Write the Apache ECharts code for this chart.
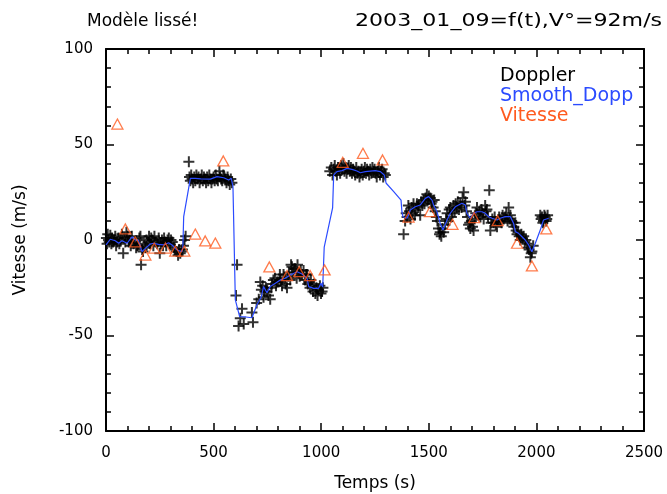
<!DOCTYPE html>
<html>
<head>
<meta charset="utf-8">
<script src="https://cdn.jsdelivr.net/npm/echarts@6/dist/echarts.min.js"></script>
<style>html,body{margin:0;padding:0;background:#fff;}#c{width:667px;height:494px;}</style>
</head>
<body>
<div id="c"></div>
<script>
// Doppler measurements [t (s), v (m/s)]
const dopplerPoints = [
[2,1],[5,-2],[8,3],[12,0],[15,-1],[20,2.5],[25,-2],[28,1],[33,-1],[38,0],[43,2],[47,-3],[52,-1],[58,1],[62,-2],[68,0],[74,3],[80,-7],[85,1],[90,-1],[95,4],[100,2],[105,-1],[110,0],[115,-3],[120,2],[128,-2],[135,-1],[140,-4],[145,-3],[150,-2],[155,1],[160,2],[163,-13],[168,-5],[172,-6],[178,-3],[183,-4],[188,0],[195,-1],[200,2],[205,-2],[210,1],[215,0],[220,-3],[225,2],[230,-1],[238,-2],[245,1],[250,-7],[255,-2],[260,0],[265,-3],[270,1],[275,-1],[280,-3],[286,0],[292,1],[298,-2],[302,0],[308,-1],[315,-4],[320,-5],[328,-6],[335,-8],[340,-5],[345,-7],[350,-6],[355,-5],[360,-3],[365,0],[370,2],
[385,41],[388,33],[392,31],[396,34],[400,32],[405,30],[410,33],[415,31],[420,34],[425,32],[430,33],[435,30],[440,32],[445,34],[450,31],[455,33],[460,32],[465,30],[470,33],[475,31],[480,34],[485,32],[490,30],[495,32],[500,33],[505,31],[510,34],[515,32],[520,31],[527,36],[530,33],[535,32],[540,31],[545,34],[550,33],[555,32],[560,30],[565,33],[570,31],[575,29],[580,32],[585,30],
[604,-29],[609,-13],[616,-45],[624,-41],[632,-36],[640,-44],[678,-38],[683,-43],
[700,-33],[710,-31],[717,-22],[722,-26],[728,-24],[732,-30],[738,-27],[743,-25],[748,-27],[755,-29],[763,-31],[768,-25],[771,-23],[778,-21],[785,-20],[790,-24],[795,-22],[802,-22],[808,-18],[812,-21],[818,-24],[825,-18],[830,-20],[835,-23],[841,-25],[846,-19],[850,-17],[856,-21],[860,-13],[864,-14],[870,-17],[875,-15],[880,-15],[886,-20],[890,-13],[895,-17],[900,-19],[905,-16],[912,-18],[918,-16],[925,-21],[930,-18],[934,-18],[938,-23],[942,-22],[948,-25],[952,-21],[957,-24],[962,-27],[967,-23],[973,-28],[978,-25],[983,-29],[988,-26],[994,-24],[999,-28],[1004,-27],[1008,-25],
[1040,36],[1047,38],[1053,34],[1058,37],[1063,39],[1068,36],[1073,34],[1078,38],[1083,37],[1088,35],[1093,39],[1098,37],[1103,40],[1108,36],[1113,38],[1118,35],[1123,37],[1128,39],[1133,36],[1138,38],[1143,35],[1148,37],[1153,36],[1158,34],[1163,38],[1168,35],[1173,36],[1178,33],[1183,35],[1188,37],[1193,34],[1198,36],[1203,38],[1208,35],[1213,37],[1218,36],[1223,34],[1228,37],[1233,35],[1238,38],[1243,36],[1248,37],[1253,35],[1258,33],[1263,36],[1268,38],[1273,34],[1278,36],[1283,37],[1288,33],[1293,35],[1298,34],
[1383,3],[1390,10],[1395,14],[1399,12],[1405,18],[1410,15],[1415,11],[1420,17],[1425,14],[1429,19],[1435,13],[1440,16],[1445,19],[1450,17],[1453,18],[1460,13],[1465,20],[1470,18],[1475,21],[1480,19],[1485,22],[1491,24],[1496,21],[1500,23],[1507,22],[1511,19],[1515,20],[1520,17],[1525,21],[1530,15],[1535,12],[1540,10],[1545,6],[1550,3],[1553,4],[1558,2],[1563,6],[1569,4],[1575,8],[1580,11],[1585,14],[1590,10],[1595,16],[1600,17],[1605,12],[1610,14],[1615,18],[1620,15],[1625,19],[1630,17],[1635,20],[1640,16],[1646,19],[1652,17],[1657,22],[1662,25],[1667,18],[1670,20],[1675,15],[1680,12],[1685,8],[1690,9],[1693,6],[1698,10],[1703,7],[1708,5],[1713,11],[1718,14],[1724,17],[1730,13],[1735,15],[1740,12],[1745,16],[1750,14],[1755,11],[1762,18],[1766,15],[1770,16],[1775,12],[1781,26],[1786,5],[1790,9],[1795,11],[1801,9],[1806,12],[1811,8],[1817,7],[1822,10],[1827,12],[1832,10],[1838,9],[1843,13],[1848,11],[1855,12],[1860,14],[1866,10],[1871,17],[1876,11],[1879,13],[1885,10],[1890,9],[1895,7],[1902,9],[1906,5],[1910,3],[1915,4],[1920,2],[1925,0],[1930,3],[1935,1],[1941,2],[1946,-1],[1951,0],[1956,-2],[1961,-4],[1966,-5],[1972,-9],[1976,-7],[1979,-6],[1985,-3],[2018,13],[2022,11],[2026,12],[2030,9],[2033,10],[2037,13],[2041,12],[2045,10],[2048,11],[2052,13]
];
// Smoothed Doppler model
const smoothPoints = [
[0,-2.6],[20,0.4],[43,-0.4],[59,-1.7],[74,-0.4],[98,-1.7],[121,1.7],[136,0],[150,0],[167,-6.1],[183,-4.4],[206,-2.1],[221,-1.7],[244,-2.3],[268,-2.6],[291,-1.4],[307,-2.6],[322,-4.4],[337,-5.6],[353,-6.1],[357,-4],[361,12.2],[392,32.3],[415,32.3],[440,32],[485,31.9],[516,33.2],[547,32.6],[570,31.4],[582,32.3],[590,27.9],[601,-31.4],[609,-32.3],[621,-40.1],[650,-40.3],[678,-40.7],[701,-34],[722,-29.7],[732,-24.4],[748,-27.6],[763,-24.4],[787,-22.7],[810,-20.9],[833,-20],[856,-18.3],[888,-16.6],[911,-17.8],[934,-20],[942,-24.4],[965,-25.3],[988,-25.3],[999,-22.7],[1007,-24.6],[1014,-3.7],[1053,16.8],[1058,34],[1073,35.8],[1097,36.3],[1120,37.5],[1143,37],[1166,36.1],[1182,35.2],[1205,35.8],[1228,36.1],[1251,36.3],[1275,35.8],[1293,34],[1302,29.7],[1337,25.3],[1371,20.9],[1375,14.8],[1380,12.2],[1399,11.4],[1414,15.7],[1437,17.4],[1460,18.3],[1484,21.8],[1499,22.7],[1515,20.9],[1522,18.3],[1538,14.8],[1553,8.7],[1566,5.2],[1585,10.5],[1600,14],[1623,17.4],[1654,19.2],[1670,18.3],[1677,14],[1693,11.4],[1708,14],[1724,14.8],[1747,14.8],[1762,14],[1778,12.2],[1794,11.4],[1817,10.5],[1832,11.4],[1855,12.2],[1879,12.2],[1894,8.7],[1902,4.4],[1917,3.5],[1933,1.7],[1948,0],[1964,-2.6],[1979,-6.1],[1995,-1.7],[2018,5.2],[2033,10.5],[2057,11.4]
];
// Vitesse (triangles)
const vitessePoints = [
[53,60.7],[90,5.8],[136,-1.0],[183,-7.9],[224,-4.2],[276,-4.2],[322,-5.8],[364,-5.8],[415,3.1],[461,-0.5],[508,-1.6],[545,41.4],[759,-14.1],[841,-18.7],[898,-16.6],[949,-18.7],[1016,-15.7],[1100,40.7],[1194,45.4],[1285,41.9],[1406,12.0],[1505,14.8],[1610,8.2],[1711,11.7],[1820,10.1],[1910,-1.7],[1979,-13.6],[2046,5.8]
];
const xTicks = [0, 500, 1000, 1500, 2000, 2500];
const yTicks = [-100, -50, 0, 50, 100];
const titleLeft = 'Modèle lissé!';
const titleRight = '2003_01_09=f(t),V°=92m/s';
const legendNames = ['Doppler', 'Smooth_Dopp', 'Vitesse'];
const legendColors = ['#000000', '#2b4bff', '#ff5a1e'];

const FONT = 'DejaVu Sans';
const chart = echarts.init(document.getElementById('c'), null, {renderer: 'canvas'});
const axisCommon = {
  axisLine: {show: true, onZero: false, lineStyle: {color: '#000', width: 2}},
  axisTick: {show: true, inside: true, length: 8, lineStyle: {color: '#000', width: 1.5}},
  minorTick: {show: true, splitNumber: 5, length: 5, lineStyle: {color: '#000', width: 1.5}},
  splitLine: {show: false}
};
const plain = v => String(v);
const option = {
  animation: false,
  backgroundColor: '#fff',
  grid: {left: 106, right: 23, top: 49, bottom: 63, containLabel: false, outerBoundsMode: 'none'},
  xAxis: [
    Object.assign({}, axisCommon, {
      type: 'value', position: 'bottom', min: xTicks[0], max: xTicks[xTicks.length-1], interval: 500,
      name: 'Temps (s)', nameLocation: 'middle', nameGap: 44,
      nameTextStyle: {fontFamily: FONT, fontSize: 17, color: '#000'},
      axisLabel: {show: true, margin: 15, fontFamily: FONT, fontSize: 15, color: '#000', formatter: plain}
    }),
    Object.assign({}, axisCommon, {
      type: 'value', position: 'top', min: xTicks[0], max: xTicks[xTicks.length-1], interval: 500,
      axisLabel: {show: false}
    })
  ],
  yAxis: [
    Object.assign({}, axisCommon, {
      type: 'value', position: 'left', min: yTicks[0], max: yTicks[yTicks.length-1], interval: 50,
      name: 'Vitesse (m/s)', nameLocation: 'middle', nameGap: 77, nameRotate: 90,
      nameTextStyle: {fontFamily: FONT, fontSize: 17, color: '#000'},
      axisLabel: {show: true, margin: 13, fontFamily: FONT, fontSize: 15, color: '#000', formatter: plain}
    }),
    Object.assign({}, axisCommon, {
      type: 'value', position: 'right', min: yTicks[0], max: yTicks[yTicks.length-1], interval: 50,
      axisLabel: {show: false}
    })
  ],
  series: [
    {
      name: legendNames[0], type: 'scatter', data: dopplerPoints,
      symbol: 'path://M0,5L10,5M5,0L5,10', symbolSize: 11,
      itemStyle: {color: 'rgba(0,0,0,0)', borderColor: legendColors[0], borderWidth: 2},
      z: 2
    },
    {
      name: legendNames[1], type: 'line', data: smoothPoints, showSymbol: false, symbol: 'none',
      lineStyle: {color: legendColors[1], width: 1.2}, z: 3
    },
    {
      name: legendNames[2], type: 'scatter', data: vitessePoints,
      symbol: 'triangle', symbolSize: [11, 10],
      itemStyle: {color: 'rgba(0,0,0,0)', borderColor: legendColors[2], borderWidth: 1.3},
      z: 4
    }
  ],
  graphic: [
    {type: 'text', x: 87, y: 13, style: {text: titleLeft, font: '17px "' + FONT + '"', fill: '#000'}},
    {type: 'text', x: 355, y: 13, scaleX: 1.3, style: {text: titleRight, font: '17px "' + FONT + '"', fill: '#000'}},
    {type: 'text', x: 500, y: 67, style: {text: legendNames[0], font: '19px "' + FONT + '"', fill: legendColors[0]}},
    {type: 'text', x: 500, y: 87, style: {text: legendNames[1], font: '19px "' + FONT + '"', fill: legendColors[1]}},
    {type: 'text', x: 500, y: 107, style: {text: legendNames[2], font: '19px "' + FONT + '"', fill: legendColors[2]}}
  ]
};
chart.setOption(option);
</script>
</body>
</html>
